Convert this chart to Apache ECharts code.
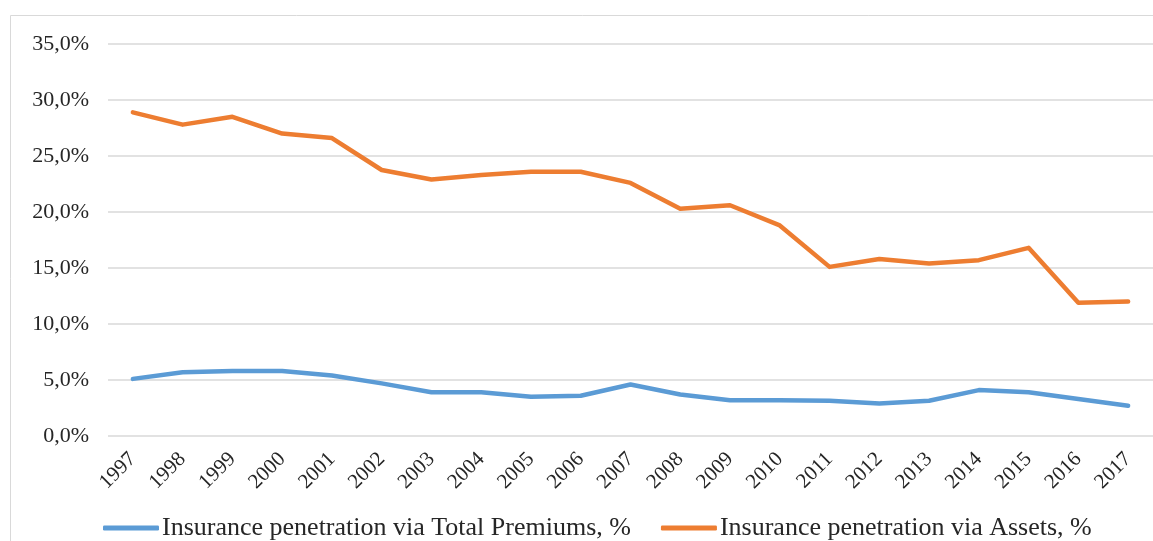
<!DOCTYPE html>
<html>
<head>
<meta charset="utf-8">
<script src="https://cdn.jsdelivr.net/npm/echarts@6/dist/echarts.min.js"></script>
<style>
  html, body { margin: 0; padding: 0; background: #fff; }
  #chart { width: 1153px; height: 541px; }
</style>
</head>
<body>
<div id="chart"></div>
<script>
const years = ['1997', '1998', '1999', '2000', '2001', '2002', '2003', '2004', '2005', '2006', '2007',
  '2008', '2009', '2010', '2011', '2012', '2013', '2014', '2015', '2016', '2017']

// values in %
const premiums = [5.1, 5.7, 5.8, 5.8, 5.4, 4.7, 3.9, 3.9, 3.5, 3.6, 4.6,
  3.7, 3.2, 3.2, 3.15, 2.9, 3.15, 4.1, 3.9, 3.3, 2.7]
const assets = [28.9, 27.8, 28.5, 27.0, 26.6, 23.75, 22.9, 23.3, 23.6, 23.6, 22.6,
  20.3, 20.6, 18.8, 15.1, 15.8, 15.4, 15.7, 16.8, 11.9, 12.0]

const seriesNames = ['Insurance penetration via Total Premiums, %', 'Insurance penetration via Assets, %']

const font = '"Liberation Serif", "DejaVu Serif", serif'
const textColor = '#262626'

const chart = echarts.init(document.getElementById('chart'), null, { renderer: 'canvas' })

chart.setOption({
  animation: false,
  textStyle: { fontFamily: font },
  graphic: [{
    type: 'rect',
    shape: { x: 10.5, y: 15.5, width: 1160, height: 560 },
    style: { fill: 'none', stroke: '#d9d9d9', lineWidth: 1 },
    silent: true
  }],
  grid: { left: 108, right: 0, top: 44, bottom: 105 },
  legend: {
    left: 98,
    top: 510,
    itemWidth: 56,
    itemHeight: 5,
    itemGap: 30,
    icon: 'roundRect',
    textStyle: { fontFamily: font, fontSize: 26, color: textColor, padding: [0, 0, 0, -2] },
    data: seriesNames
  },
  xAxis: {
    type: 'category',
    data: years,
    boundaryGap: true,
    axisLine: { show: false },
    axisTick: { show: false },
    axisLabel: {
      rotate: 45,
      margin: 20,
      interval: 0,
      fontFamily: font,
      fontSize: 21,
      color: textColor
    }
  },
  yAxis: {
    type: 'value',
    min: 0,
    max: 35,
    interval: 5,
    axisLine: { show: false },
    axisTick: { show: false },
    splitLine: { lineStyle: { color: '#d9d9d9', width: 1.5 } },
    axisLabel: {
      margin: 19,
      fontFamily: font,
      fontSize: 22,
      color: textColor,
      formatter: v => v.toFixed(1).replace('.', ',') + '%'
    }
  },
  series: [
    {
      name: seriesNames[0],
      type: 'line',
      data: premiums,
      symbol: 'none',
      color: '#5b9bd5',
      lineStyle: { width: 4.5, cap: 'round', join: 'round' }
    },
    {
      name: seriesNames[1],
      type: 'line',
      data: assets,
      symbol: 'none',
      color: '#ed7d31',
      lineStyle: { width: 4.5, cap: 'round', join: 'round' }
    }
  ]
})
</script>
</body>
</html>
